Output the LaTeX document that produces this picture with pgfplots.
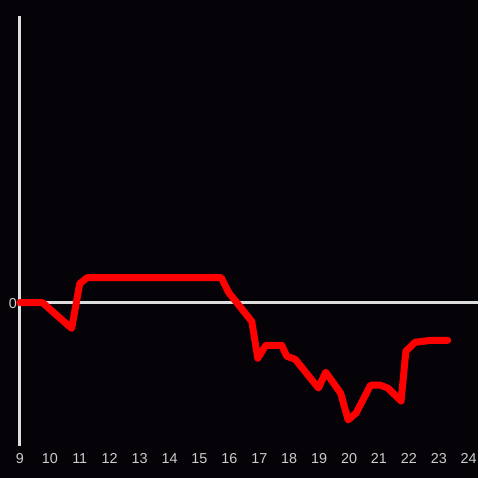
\documentclass[border=0pt]{standalone}
\usepackage{pgfplots}
\pgfplotsset{compat=1.18}
\usepackage{fontspec}
\setmainfont{Liberation Sans}
\definecolor{bg}{RGB}{5,3,7}
\definecolor{axgray}{RGB}{222,222,222}
\definecolor{lblgray}{RGB}{205,205,205}
\begin{document}
\begin{tikzpicture}
\fill[bg] (0bp,0bp) rectangle (480bp,480bp);
\begin{axis}[
  at={(20bp,32bp)}, anchor=south west,
  scale only axis, width=460bp, height=432bp,
  xmin=9, xmax=24.3, ymin=-144, ymax=288,
  axis line style={draw=none},
  major tick length=0pt,
  xtick={9,10,...,24}, ytick={0},
  clip=false,
  /pgf/number format/assume math mode=true,
  tick label style={font=\fontsize{14.5}{17}\selectfont, text=lblgray},
  xticklabel style={anchor=base, yshift=-17.5bp},
  yticklabel style={anchor=base east, yshift=-5.5bp, xshift=0.5bp},
]
\draw[axgray, line width=2.7bp] (axis cs:9,0) -- (axis cs:24.3,0);
\draw[axgray, line width=3bp] (axis cs:9,-144) -- (axis cs:9,288);
\addplot[color=red, line width=7bp, line join=round, line cap=round, mark=none] coordinates {
(9,0) (9.75,0) (10.73,-26) (11,19) (11.25,25) (15.73,25) (15.98,10)
(16.75,-19) (16.95,-56) (17.22,-43) (17.75,-43) (17.92,-54) (18.2,-57)
(18.98,-86) (19.22,-70) (19.72,-91) (19.97,-118) (20.24,-111) (20.72,-83)
(21.04,-83) (21.3,-86) (21.74,-99) (21.9,-49) (22.2,-40) (22.73,-38) (23.3,-38)
};
\end{axis}
\end{tikzpicture}
\end{document}
